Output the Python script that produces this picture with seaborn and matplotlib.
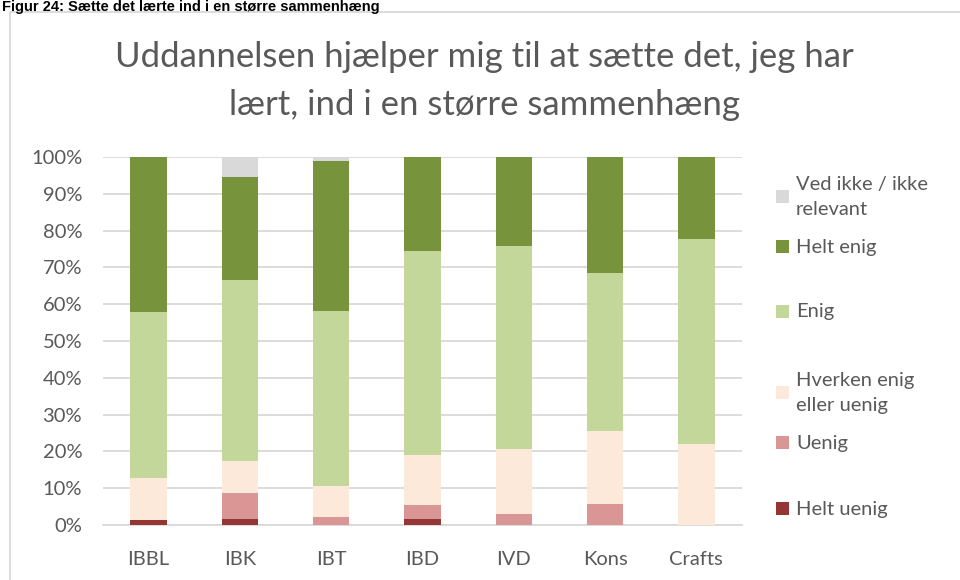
import matplotlib
matplotlib.use("Agg")
import matplotlib.pyplot as plt
import seaborn as sns
import numpy as np
import pandas as pd
from matplotlib.patches import Rectangle

categories = ["IBBL", "IBK", "IBT", "IBD", "IVD", "Kons", "Crafts"]
series_names = ["Helt uenig", "Uenig", "Hverken enig\neller uenig", "Enig", "Helt enig", "Ved ikke / ikke\nrelevant"]
helt_uenig = [1.4, 1.6, 0.0, 1.7, 0.0, 0.0, 0.0]
uenig = [0.0, 7.0, 2.3, 3.7, 3.1, 5.6, 0.0]
hverken = [11.5, 8.8, 8.2, 13.7, 17.6, 19.9, 22.1]
enig = [45.0, 49.3, 47.7, 55.4, 55.1, 43.0, 55.6]
helt_enig = [42.1, 27.9, 40.6, 25.5, 24.2, 31.5, 22.3]
ved_ikke = [0.0, 5.4, 1.2, 0.0, 0.0, 0.0, 0.0]
colors = ["#943634", "#DA9694", "#FDE9D9", "#C4D79B", "#77933C", "#D9D9D9"]
ytick_labels = ["0%", "10%", "20%", "30%", "40%", "50%", "60%", "70%", "80%", "90%", "100%"]
title = "Uddannelsen hjælper mig til at sætte det, jeg har\nlært, ind i en større sammenhæng"
header = "Figur 24: Sætte det lærte ind i en større sammenhæng"

sns.set_theme(style="white")
plt.rcParams["font.family"] = ["Lato", "DejaVu Sans"]
txt = "#595959"
grid = "#D9D9D9"
fs = 14.5

fig = plt.figure(figsize=(9.6, 5.8), dpi=100)
ax = fig.add_axes([103/960, 1-525/580, (742-103)/960, (525-157)/580])

series = [helt_uenig, uenig, hverken, enig, helt_enig, ved_ikke]
cum = np.cumsum(np.array(series), axis=0)
for i in range(len(series) - 1, -1, -1):
    df = pd.DataFrame({"cat": categories, "val": cum[i]})
    sns.barplot(data=df, x="cat", y="val", color=colors[i], saturation=1,
                width=0.4, ax=ax, zorder=3, linewidth=0)

ax.set_ylim(0, 100)
ax.set_xlim(-0.5, len(categories) - 0.5)
ax.set_yticks(np.arange(0, 101, 10))
ax.set_yticklabels(ytick_labels)
ax.yaxis.grid(True, color=grid, linewidth=1.3, zorder=0)
ax.set_axisbelow(True)
for s in ["top", "right", "left"]:
    ax.spines[s].set_visible(False)
ax.spines["bottom"].set_color(grid)
ax.spines["bottom"].set_linewidth(1.3)
ax.tick_params(axis="both", length=0, labelsize=fs, colors=txt)
ax.tick_params(axis="y", pad=15)
ax.tick_params(axis="x", pad=19)
ax.set_xlabel("")
ax.set_ylabel("")

fig.text(0.505, 1-81/580, title, ha="center", va="center", fontsize=25,
         color=txt, linespacing=1.62)

# chart border
fig.patches.append(Rectangle((10/960, -0.05), 1.0, 1-12/580+0.05, transform=fig.transFigure,
                             fill=False, edgecolor=grid, linewidth=1.3))
fig.text(2/960, 1-0.5/580, header, ha="left", va="top", fontsize=10.5, fontweight="bold",
         color="#000000", family=["Liberation Sans", "DejaVu Sans"])

# legend (top-to-bottom order)
leg_y = [197, 247, 312, 393, 443, 509]
order = [5, 4, 3, 2, 1, 0]
for yy, idx in zip(leg_y, order):
    fig.patches.append(Rectangle((776/960, 1-(yy+6)/580), 13/960, 13/580,
                                 transform=fig.transFigure, facecolor=colors[idx],
                                 edgecolor="none"))
    fig.text(796/960, 1-yy/580, series_names[idx], ha="left", va="center",
             fontsize=fs, color=txt, linespacing=1.6)

fig.savefig("out.png", dpi=100)
